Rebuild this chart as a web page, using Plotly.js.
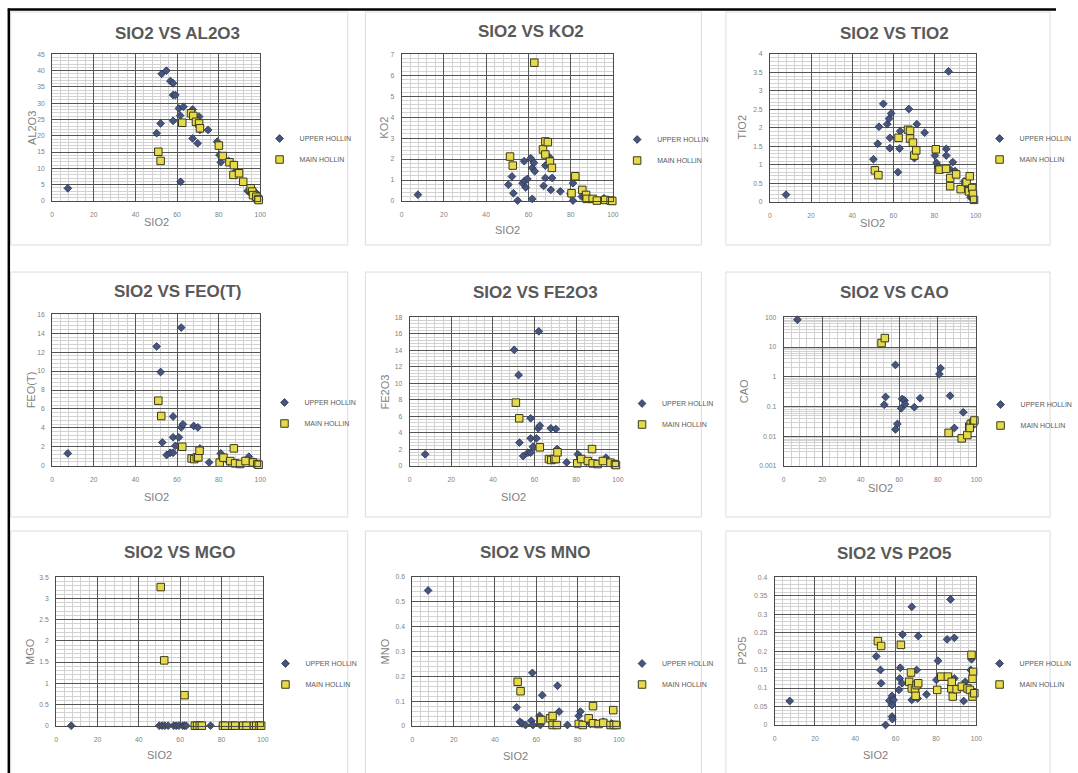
<!DOCTYPE html>
<html>
<head>
<meta charset="utf-8">
<script src="https://cdn.plot.ly/plotly-3.0.1.min.js"></script>
<style>html,body{margin:0;padding:0;background:#fff;}#chart{width:1078px;height:773px;}</style>
</head>
<body>
<div id="chart"></div>
<script>
// ---------- DATA ----------
const seriesNames = ['UPPER HOLLIN', 'MAIN HOLLIN'];
const chartTitles = ['SIO2 VS AL2O3','SIO2 VS KO2','SIO2 VS TIO2','SIO2 VS FEO(T)','SIO2 VS FE2O3','SIO2 VS CAO','SIO2 VS MGO','SIO2 VS MNO','SIO2 VS P2O5'];
const yLabels = ['AL2O3','KO2','TIO2','FEO(T)','FE2O3','CAO','MGO','MNO','P2O5'];
const xLabel = 'SIO2';

const al2o3_upper_x = [7.5,50.2,52.1,52.6,54.9,56.8,58.1,58.1,59.2,58.1,60.9,61.5,63.1,61.7,67.5,67.5,69.9,70.6,71,74.9,79.3,80.4,81,84.8,88.5,93.9,96.5,98.1,98.9,99.5];
const al2o3_upper_y = [3.9,20.8,23.8,39.0,40.0,36.8,36.1,32.5,32.5,24.6,28.4,26.2,28.9,5.9,28.1,19.2,17.7,25.9,21.8,21.8,18.2,14.1,11.9,12.3,9.3,3.1,2.0,2.4,0.8,0.3];
const al2o3_main_x = [51,52.1,62.5,66.7,67.8,69.1,70.6,71,80.1,82,85.2,87.3,87.1,89.8,91.8,95.4,96.1,96.5,98.1,98.9,99.2];
const al2o3_main_y = [15.1,12.3,24.0,26.9,26.1,24.3,23.8,22.3,17.0,13.8,11.9,11.0,8.0,8.5,5.9,3.9,2.9,1.8,1.3,0.6,0.3];

const ko2_upper_x = [7.7,50.5,52.2,52.9,54.9,57.2,58,58.3,58.7,59.5,61.1,61.8,62.6,63,61.8,67.2,68,68,70,70.6,71.2,75.1,79.9,81.1,81.1,85.3,87.6,95.8,97.4];
const ko2_upper_y = [0.30,0.78,1.17,0.37,0.02,0.85,1.9,0.97,0.65,1.05,2.04,1.58,1.82,1.42,0.10,0.72,1.69,1.1,2.09,0.53,1.1,0.46,0.34,0.85,0.02,0.21,0.18,0.13,0.02];
const ko2_main_x = [51.3,52.6,62.8,66.9,68,69.2,68,70.2,71.1,80.4,82.2,85.5,87.3,87.6,90.4,92.4,96.3,98.9,99.7];
const ko2_main_y = [2.12,1.69,6.6,2.46,2.84,2.81,2.22,1.88,1.58,0.37,1.18,0.53,0.29,0.1,0.1,0.02,0.05,0.02,0.0];

const tio2_upper_x = [7.8,50.3,52.4,53,55.1,57,57.9,58.9,58.3,58.3,62.2,63.3,63,67.5,70.2,71.4,75.2,80.2,81,81.6,85.7,85.7,86.8,87.3,88.9,90,94.4,95,96.3,97.5,98.7];
const tio2_upper_y = [0.19,1.15,1.57,2.03,2.65,2.1,2.25,2.39,1.73,1.45,0.8,1.91,1.44,2.51,1.18,2.1,1.87,1.25,1.05,0.94,1.43,1.25,3.53,0.89,1.07,0.83,0.55,0.46,0.27,0.12,0.07];
const tio2_main_x = [51,52.7,62.5,67.1,68.1,68.1,69.5,70.2,71.1,80.6,82.4,85.6,87.6,87.6,90.5,92.7,95.6,97.1,96.7,98.3,98.7,99.2];
const tio2_main_y = [0.85,0.72,1.73,1.95,1.92,1.71,1.6,1.25,1.39,1.42,0.87,0.89,0.64,0.42,0.74,0.34,0.53,0.69,0.28,0.37,0.21,0.05];

const feot_upper_x = [7.5,50.2,52.1,52.9,55,56.7,58.1,58.1,58.1,59.2,60.9,62,62,62.8,68,70,71,75.4,81,84.8,94.5,97];
const feot_upper_y = [1.3,12.6,9.9,2.46,1.13,1.37,5.2,3.0,1.37,2.1,3.0,14.6,4.05,4.37,4.2,4.05,1.83,0.35,1.3,0.4,0.95,0.42];
const feot_main_x = [51,52.4,62.5,67,68.3,69.5,70.2,70.8,80.5,82.3,85.6,87.3,87.9,90.3,92.9,96.5,98.6,99.2];
const feot_main_y = [6.87,5.25,2.0,0.77,0.7,0.88,0.88,1.58,0.32,0.85,0.49,1.83,0.25,0.18,0.49,0.35,0.18,0.1];

const fe2o3_upper_x = [7.4,50.2,52.3,52.7,54.5,56.8,58.1,58.1,58.1,59.2,60.9,61.7,62.5,62,67.8,70.2,70.8,75.4,80.8,84.9,94.3,96.9];
const fe2o3_upper_y = [1.38,14.05,11.0,2.8,1.17,1.58,5.75,3.32,1.58,2.3,3.32,4.53,4.86,16.3,4.53,4.45,2.02,0.4,1.38,0.49,0.97,0.36];
const fe2o3_main_x = [51,52.6,62.5,66.9,68,69.5,70.2,71,80.5,82.4,85.6,87.6,87.9,90.3,92.8,96.5,98.6,99.1];
const fe2o3_main_y = [7.65,5.75,2.23,0.81,0.69,0.81,0.81,1.62,0.28,0.81,0.57,2.02,0.28,0.2,0.57,0.36,0.16,0.08];

const cao_upper_x = [7.1,58,52.9,52.2,59,58,61.5,62.7,63,61,67.8,70.8,81.4,80.8,86.4,93.2,88.6,97.5,98.6];
const cao_upper_y = [83,2.5,0.21,0.115,0.026,0.017,0.18,0.16,0.12,0.087,0.095,0.19,1.95,1.23,0.23,0.064,0.019,0.032,0.028];
const cao_main_x = [50.8,52.5,85.6,92.4,95.3,96.3,97.1,98.3,99,96.6];
const cao_main_y = [13.6,20,0.013,0.0085,0.011,0.021,0.026,0.028,0.034,0.019];

const mgo_upper_x = [7.3,49.9,51.3,52.6,54.2,56.9,58.1,59.4,61.3,62.1,62.9,74.7,80.5,85,89,94,97];
const mgo_upper_y = [0,0,0,0,0,0,0,0,0,0,0,0,0,0,0,0,0];
const mgo_main_x = [50.6,52.3,62.1,67.1,68.2,69.5,70.5,80.7,81.8,85.3,86.6,90.5,92.1,95.7,96.8,98.4,99.2];
const mgo_main_y = [3.27,1.54,0.72,0,0,0,0,0,0,0,0,0,0,0,0,0,0];

const mno_upper_x = [7.6,50.5,52.1,53.2,54.8,57.6,58.1,58.4,61.6,62,62.9,70.3,71.1,67.1,75.1,80.6,81.4,86.2,92.5,96.5];
const mno_upper_y = [0.546,0.075,0.017,0.01,0.004,0.021,0.214,0.004,0.041,0.004,0.124,0.162,0.058,0.037,0.004,0.041,0.058,0.01,0.017,0.01];
const mno_main_x = [51,52.4,62.4,66.7,67.9,67.9,70,80.6,82.5,85.4,87.5,87.5,90.2,92.5,97.3,96,97.6,98.9];
const mno_main_y = [0.178,0.14,0.024,0.031,0.04,0.004,0.004,0.008,0.004,0.031,0.08,0.011,0.008,0.013,0.064,0.004,0.004,0.004];

const p2o5_upper_x = [7.5,50.4,52.5,52.8,55,56.9,58.2,59,58.2,58.2,58.4,62,62.3,63.1,63.4,61.6,68,68,70.4,71.2,70.9,75.3,81,80.2,85.5,87.2,89.1,89.1,93.7,94.5,97.6,97.2];
const p2o5_upper_y = [0.065,0.186,0.149,0.113,0.0,0.066,0.079,0.068,0.054,0.023,0.016,0.126,0.155,0.113,0.245,0.095,0.32,0.068,0.149,0.241,0.072,0.083,0.174,0.122,0.232,0.34,0.236,0.126,0.065,0.117,0.178,0.149];
const p2o5_main_x = [51.2,52.8,62.6,66.7,67.6,68,69.6,70.4,69.9,71.2,80.6,82.6,85.9,87.6,87.8,88.3,90.2,92.8,95.6,97.6,98.4,98.1,96.8,98.1,99];
const p2o5_main_y = [0.227,0.214,0.217,0.117,0.142,0.099,0.095,0.108,0.079,0.113,0.095,0.131,0.131,0.099,0.117,0.077,0.097,0.104,0.099,0.19,0.144,0.125,0.095,0.077,0.086];

// ---------- LAYOUT CONFIG (pixels) ----------
const W = 1078, H = 773;
const px = v => v / W;
const py = v => 1 - v / H;

const series = [
  [al2o3_upper_x, al2o3_upper_y, al2o3_main_x, al2o3_main_y],
  [ko2_upper_x, ko2_upper_y, ko2_main_x, ko2_main_y],
  [tio2_upper_x, tio2_upper_y, tio2_main_x, tio2_main_y],
  [feot_upper_x, feot_upper_y, feot_main_x, feot_main_y],
  [fe2o3_upper_x, fe2o3_upper_y, fe2o3_main_x, fe2o3_main_y],
  [cao_upper_x, cao_upper_y, cao_main_x, cao_main_y],
  [mgo_upper_x, mgo_upper_y, mgo_main_x, mgo_main_y],
  [mno_upper_x, mno_upper_y, mno_main_x, mno_main_y],
  [p2o5_upper_x, p2o5_upper_y, p2o5_main_x, p2o5_main_y]
];

// plot areas: [left, right, top, bottom]
const panels = [
  {box:[53.3,265.7,54.3,201], y:{range:[0,45],dtick:5,minor:1}, title:[181,33], xt:222, yt:32, leg:[285,136]},
  {box:[410,625.7,54.3,201], y:{range:[0,7],dtick:1,minor:0.2}, title:[542,32], xt:230, yt:392, leg:[650,137]},
  {box:[786,996,54,201.7], y:{range:[0,4],dtick:0.5,minor:0.1}, title:[913,33], xt:223, yt:757, leg:[1020,136]},
  {box:[53.3,265.7,314.3,465.7], y:{range:[0,16],dtick:2,minor:0.4}, title:[182,292], xt:497, yt:32, leg:[290,400]},
  {box:[418.3,630.7,317.3,465.7], y:{range:[0,18],dtick:2,minor:0.4}, title:[547,293], xt:497, yt:393, leg:[655,401]},
  {box:[800,996.7,317.3,466], y:{log:true}, title:[913,293], xt:488, yt:759, leg:[1021,402]},
  {box:[57.3,268.3,577.3,725.7], y:{range:[0,3.5],dtick:0.5,minor:0.1}, title:[183,552], xt:755, yt:30, leg:[291,661]},
  {box:[421,631.7,577,726], y:{range:[0,0.6],dtick:0.1,minor:0.02}, title:[547,552], xt:756, yt:393, leg:[655,661]},
  {box:[790.7,996.7,577.3,725], y:{range:[0,0.4],dtick:0.05,minor:0.01}, title:[913,553], xt:755, yt:758, leg:[1020,661]}
];

const MAJOR = '#555555', MINOR = '#d2d2d2', FRAME = '#4a4a4a';
const tickFont = {family:'Liberation Sans, Arial, sans-serif', size:6.8, color:'#7f7f7f'};

const data = [];
const layout = {
  width: W, height: H,
  margin: {l:0, r:0, t:0, b:0},
  paper_bgcolor: '#ffffff', plot_bgcolor: '#ffffff',
  showlegend: true,
  annotations: [], shapes: []
};

panels.forEach((p, i) => {
  const n = i === 0 ? '' : String(i + 1);
  const [xu, yu, xm, ym] = series[i];
  const legName = 'legend' + n;
  data.push({
    type:'scatter', mode:'markers', x:xu, y:yu, name:seriesNames[0],
    xaxis:'x'+n, yaxis:'y'+n, legend:legName, legendgroup:'u'+i, cliponaxis:false,
    marker:{symbol:'diamond', size:6, color:'#45557f', line:{color:'#28324d', width:0.8}}
  });
  data.push({
    type:'scatter', mode:'markers', x:xm, y:ym, name:seriesNames[1],
    xaxis:'x'+n, yaxis:'y'+n, legend:legName, legendgroup:'m'+i, cliponaxis:false,
    marker:{symbol:'square', size:7.5, color:'#e6da48', line:{color:'#3a3a1c', width:1}}
  });
  const [l, r, t, b] = p.box;
  layout['xaxis'+n] = {
    domain:[px(l), px(r)], anchor:'y'+n, range:[0,100], dtick:20, tick0:0,
    showgrid:true, gridcolor:MAJOR, gridwidth:1,
    minor:{dtick:4, showgrid:true, gridcolor:MINOR, gridwidth:1},
    showline:true, linecolor:FRAME, linewidth:1, mirror:true,
    zeroline:false, ticks:'', tickfont:tickFont, ticklabelstandoff:7, fixedrange:true
  };
  const ya = {
    domain:[py(b), py(t)], anchor:'x'+n,
    showgrid:true, gridcolor:MAJOR, gridwidth:1,
    showline:true, linecolor:FRAME, linewidth:1, mirror:true,
    zeroline:false, ticks:'', tickfont:tickFont, ticklabelstandoff:5, fixedrange:true
  };
  if (p.y.log) {
    ya.type = 'log'; ya.range = [-3, 2]; ya.dtick = 1;
    ya.minor = {dtick:'D1', showgrid:true, gridcolor:MINOR, gridwidth:1};
  } else {
    ya.range = p.y.range; ya.dtick = p.y.dtick; ya.tick0 = 0;
    ya.minor = {dtick:p.y.minor, showgrid:true, gridcolor:MINOR, gridwidth:1};
  }
  layout['yaxis'+n] = ya;

  layout[legName] = {
    x: px(p.leg[0] - 20), y: py(p.leg[1] - 12), xanchor:'left', yanchor:'top',
    bgcolor:'rgba(0,0,0,0)', borderwidth:0,
    font:{family:'Liberation Sans, Arial, sans-serif', size:7, color:'#595959'},
    itemclick:false, itemdoubleclick:false, tracegroupgap:2
  };

  layout.annotations.push({
    text: chartTitles[i], xref:'paper', yref:'paper', x:px(p.title[0]), y:py(p.title[1]),
    xanchor:'center', yanchor:'middle', showarrow:false,
    font:{family:'Liberation Sans, Arial, sans-serif', size:17, color:'#595959', weight:'bold'}
  });
  layout.annotations.push({
    text: xLabel, xref:'paper', yref:'paper', x:px((l + r) / 2), y:py(p.xt),
    xanchor:'center', yanchor:'middle', showarrow:false,
    font:{family:'Liberation Sans, Arial, sans-serif', size:11, color:'#7f7f7f'}
  });
  layout.annotations.push({
    text: yLabels[i], xref:'paper', yref:'paper', x:px(p.yt), y:py((t + b) / 2),
    xanchor:'center', yanchor:'middle', showarrow:false, textangle:-90,
    font:{family:'Liberation Sans, Arial, sans-serif', size:11, color:'#7f7f7f'}
  });
});

// panel frames (light gray) and outer black border
const cols = [[11,355],[373,716],[741,1072]];
const rows = [[12,245],[272,517],[531,790]];
rows.forEach(rw => cols.forEach(c => {
  layout.shapes.push({type:'rect', xref:'paper', yref:'paper', x0:px(c[0]), x1:px(c[1]), y0:py(rw[1]), y1:py(rw[0]),
    line:{color:'#dcdcdc', width:1}, fillcolor:'rgba(0,0,0,0)', layer:'below'});
}));
layout.shapes.push({type:'line', xref:'paper', yref:'paper', x0:px(8), x1:px(1078), y0:py(9.5), y1:py(9.5), line:{color:'#000', width:2.5}});
layout.shapes.push({type:'line', xref:'paper', yref:'paper', x0:px(9), x1:px(9), y0:py(8.5), y1:py(773), line:{color:'#000', width:2.5}});

Plotly.newPlot('chart', data, layout, {staticPlot:true, displayModeBar:false});
</script>
</body>
</html>
